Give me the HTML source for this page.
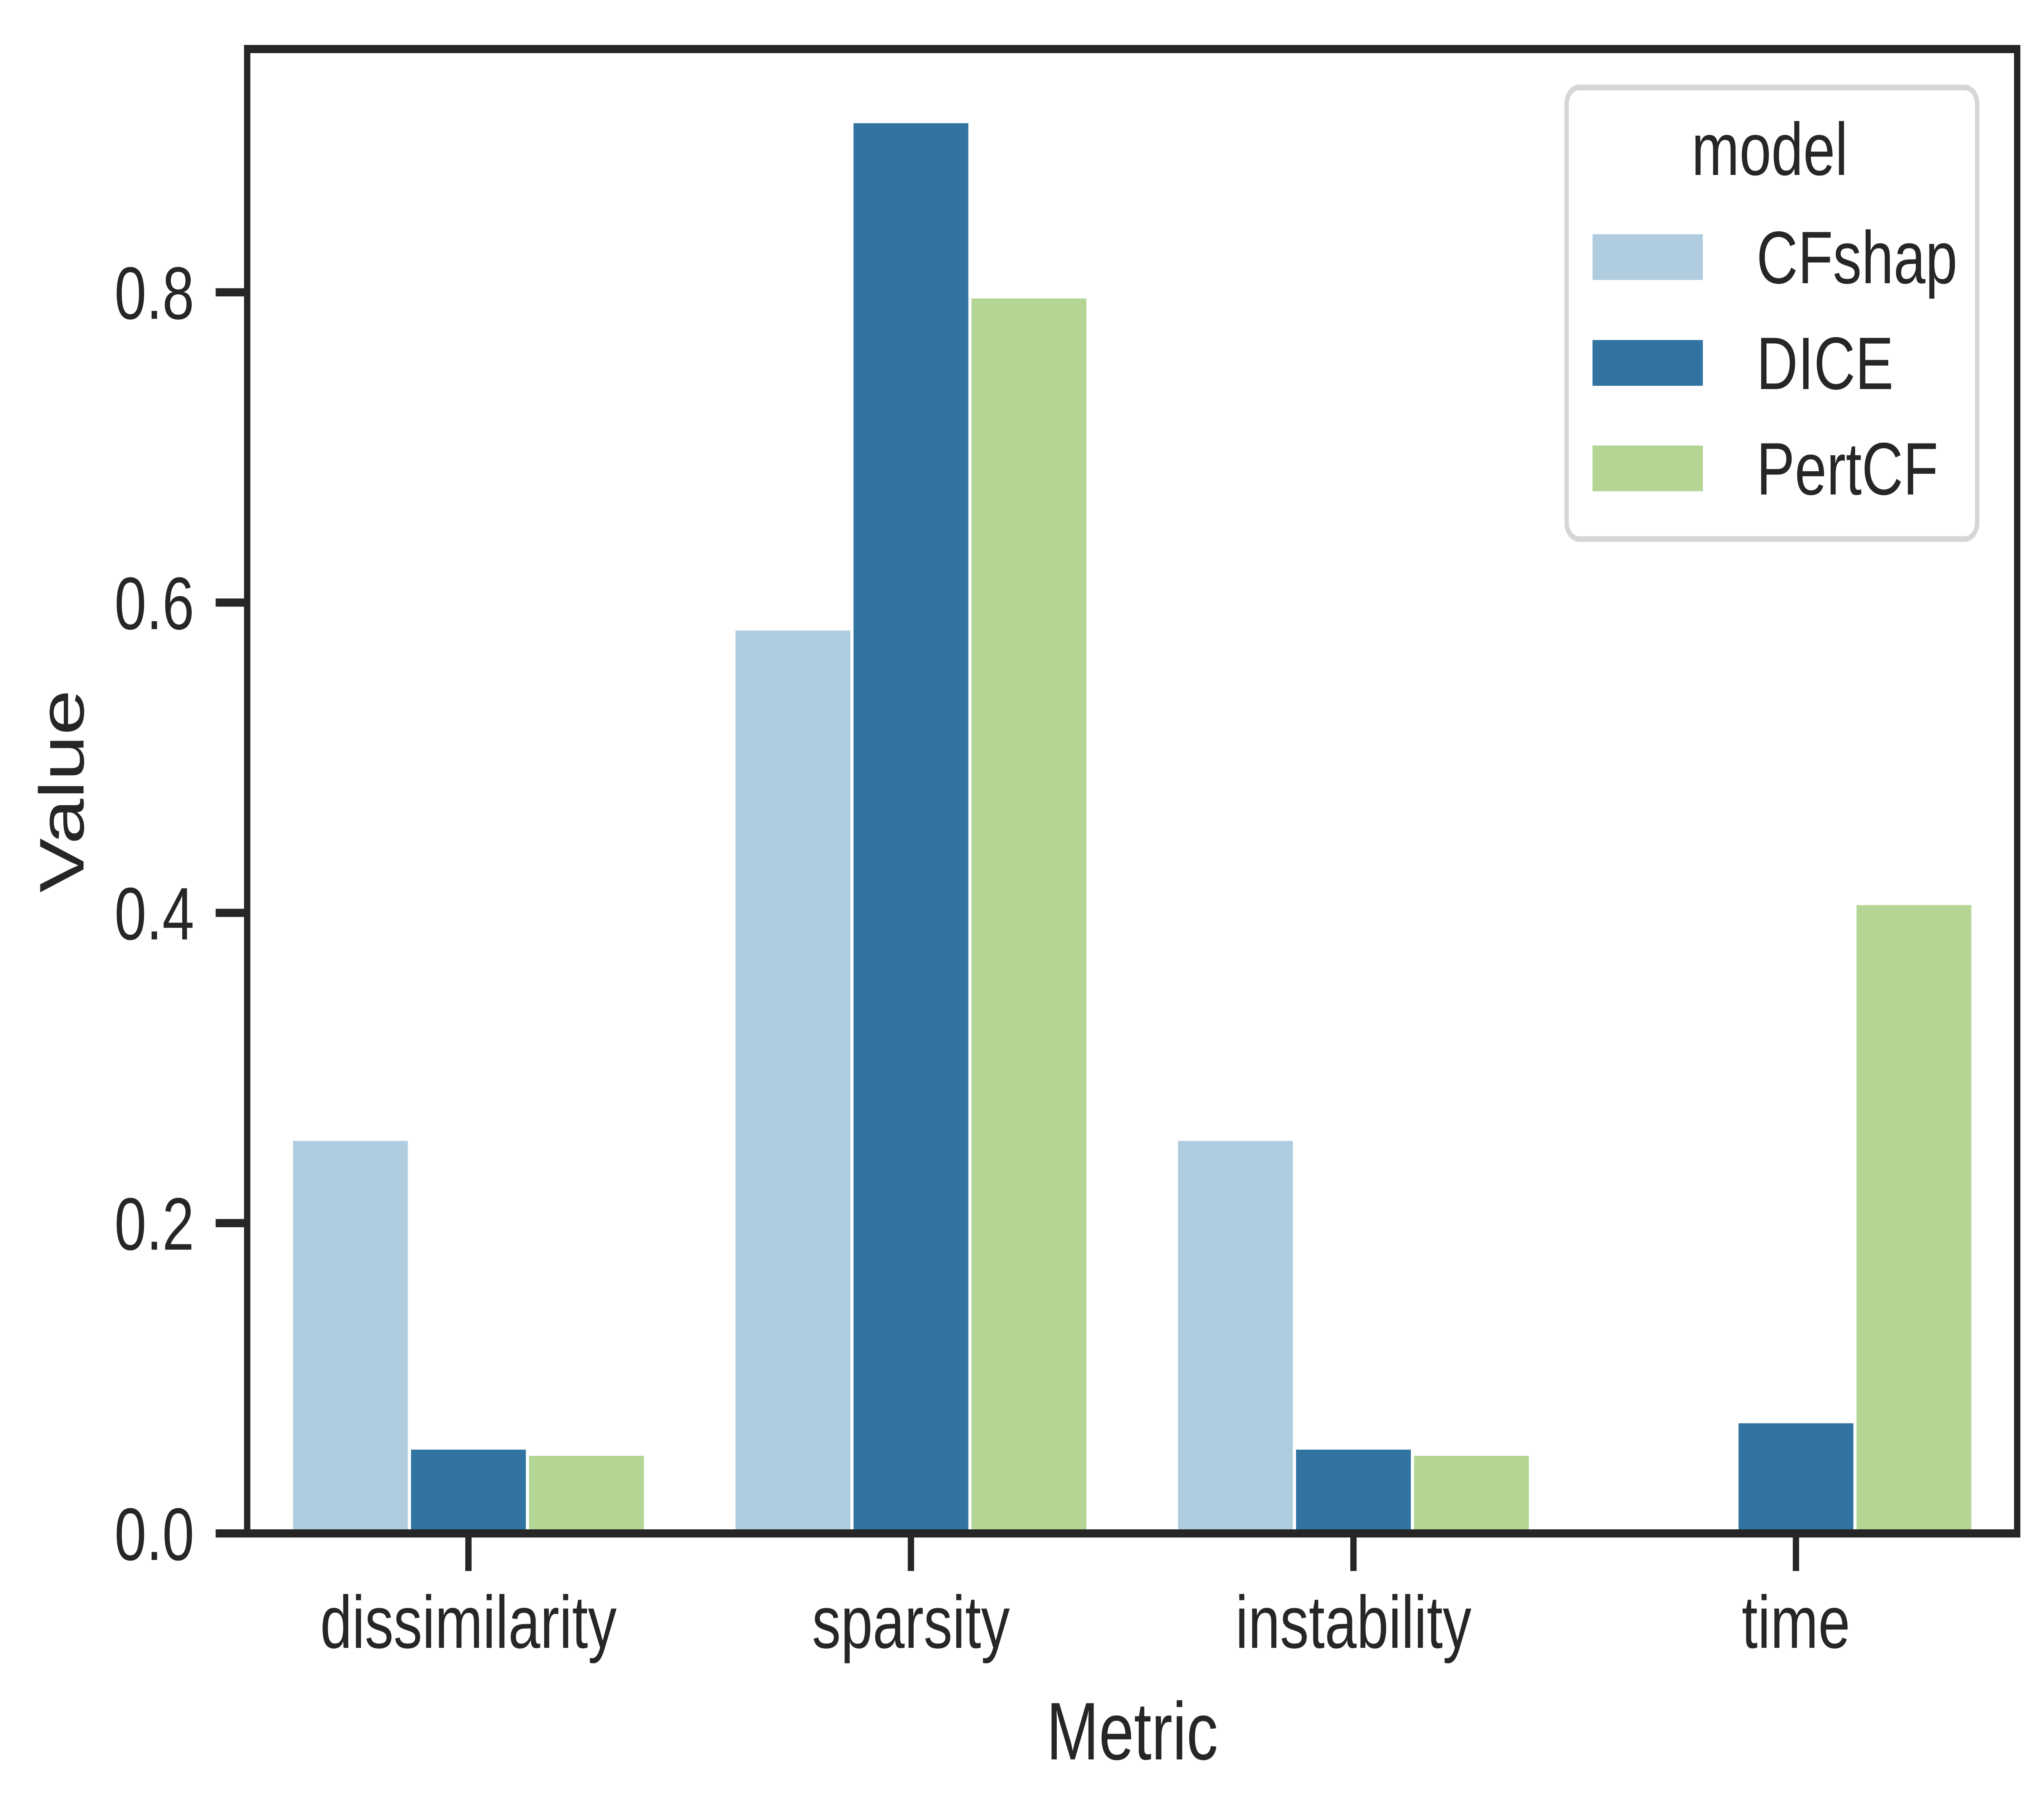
<!DOCTYPE html>
<html><head><meta charset="utf-8"><style>html,body{margin:0;padding:0;background:#fff;overflow:hidden;width:100%;height:100%}svg{display:block;width:100vw;height:100vh}text{font-family:"Liberation Sans",Arial,sans-serif;fill:#262626}</style></head>
<body>
<svg id="chart" viewBox="0 0 6483 4441" preserveAspectRatio="none" xmlns="http://www.w3.org/2000/svg">
<rect width="6483" height="4441" fill="#fff"/>
<g id="bars"></g>
<g id="axes"></g>
<g id="legend">
<rect x="4969" y="214" width="1302" height="1105" rx="40" fill="#fff" stroke="#d6d6d6" stroke-width="14"/>
<text x="5613" y="428" font-size="182" text-anchor="middle">model</text>
</g>
</svg>
<script>
const categories = ["dissimilarity","sparsity","instability","time"];
const models = ["CFshap","DICE","PertCF"];
const colors = ["#b0cde0","#3274a1","#b4d594"];
const valuesCFshap = [0.253,0.582,0.253,0.002];
const valuesDICE = [0.054,0.909,0.054,0.071];
const valuesPertCF = [0.050,0.796,0.050,0.405];
const yTicks = [0.0,0.2,0.4,0.6,0.8];
const yTickLabels = ["0.0","0.2","0.4","0.6","0.8"];

const series=[valuesCFshap,valuesDICE,valuesPertCF];
const NS="http://www.w3.org/2000/svg";
const L=784,R=6398,T=120,B=3752,yMax=(B-T)/3796;
const step=(R-L)/categories.length;
const xC=i=>L+step*(i+0.5);
const yS=v=>B-(v/yMax)*(B-T);
const bw=step*0.8/3;
function mk(tag,attrs,parent){const e=document.createElementNS(NS,tag);for(const k in attrs)e.setAttribute(k,attrs[k]);parent.appendChild(e);return e;}
const gb=document.getElementById('bars'),ga=document.getElementById('axes'),gl=document.getElementById('legend');
series.forEach((vals,s)=>{vals.forEach((v,i)=>{
  const x=xC(i)-step*0.4+s*bw;
  const r=mk('rect',{x:x+5,y:yS(v),width:bw-10,height:B-yS(v),fill:colors[s]},gb);
  
  
});});
const frame=mk('rect',{x:L,y:T,width:R-L,height:B-T,fill:'none',stroke:'#262626','stroke-width':20},ga);


yTicks.forEach((v,i)=>{
  const y=yS(v);
  const t=mk('line',{x1:L-100,x2:L,y1:y,y2:y,stroke:'#262626','stroke-width':20},ga);
  
  
  const tx=mk('text',{x:616,y:y+65,'font-size':182,'text-anchor':'end'},ga);
  tx.textContent=yTickLabels[i];
  
  
});
categories.forEach((c,i)=>{
  const x=xC(i);
  const t=mk('line',{x1:x,x2:x,y1:B,y2:3844,stroke:'#262626','stroke-width':20},ga);
  
  
  const tx=mk('text',{x:x,y:4032,'font-size':182,'text-anchor':'middle'},ga);
  tx.textContent=c;
  
  
});
const xl=mk('text',{x:(L+R)/2,y:4305,'font-size':200,'text-anchor':'middle'},ga);
xl.textContent='Metric';


const yl=mk('text',{x:0,y:0,'font-size':200,'text-anchor':'middle',transform:'translate(265,1936) rotate(-90)'},ga);
yl.textContent='Value';


const legY=[573,832,1090];
models.forEach((m,s)=>{
  const p=mk('rect',{x:5051,y:legY[s],width:350,height:112,fill:colors[s]},gl);
  
  
  const t=mk('text',{x:5571,y:legY[s]+120,'font-size':182},gl);
  t.textContent=m;
  
  
});
</script>
</body></html>
